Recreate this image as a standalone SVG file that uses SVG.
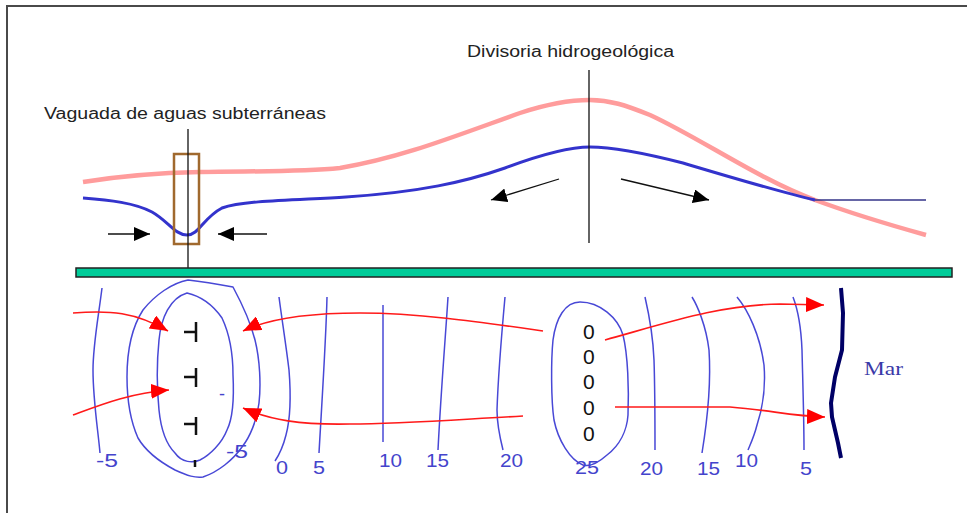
<svg xmlns="http://www.w3.org/2000/svg" width="967" height="513" viewBox="0 0 967 513">
  <style>
    .lbl { font-family: "Liberation Sans", Arial, sans-serif; font-size: 16px; fill: #222; }
    .num { font-family: "Liberation Sans", Arial, sans-serif; font-size: 18px; fill: #4444cc; }
    .well { font-family: "Liberation Sans", Arial, sans-serif; font-size: 21px; fill: #111; }
    .iso { fill: none; stroke: #4848d6; stroke-width: 1.5; stroke-linejoin: round; }
    .flow { fill: none; stroke: #ff1a1a; stroke-width: 1.6; }
    .dir { fill: none; stroke: #111; stroke-width: 1.3; }
    .recharge { stroke: #111; stroke-width: 2.5; fill: none; }
  </style>
  <defs>
    <marker id="headBlack" viewBox="0 0 16 14" refX="16" refY="7" markerWidth="16" markerHeight="14" markerUnits="userSpaceOnUse" orient="auto">
      <path d="M0,0 L16,7 L0,14 Z" fill="#000"/>
    </marker>
    <marker id="headRed" viewBox="0 0 18 15" refX="18" refY="7.5" markerWidth="18" markerHeight="15" markerUnits="userSpaceOnUse" orient="auto">
      <path d="M0,0 L18,7.5 L0,15 Z" fill="#ff0000"/>
    </marker>
  </defs>

  <rect width="967" height="513" fill="#fff"/>
  <!-- page frame -->
  <path d="M7,513 V6 H967" fill="none" stroke="#4a4a4a" stroke-width="2"/>

  <!-- cross-section -->
  <g id="section">
    <path id="ground-surface" d="M83,182 C120,176 150,173 200,172 C260,171 300,172 340,168 C400,158 450,138 520,113 C550,103 570,100 590,100 C610,100 625,105 650,115 C700,138 760,180 815,200 C850,213 890,225 926,235" fill="none" stroke="#ff9c9c" stroke-width="4.5"/>
    <path id="water-table" d="M83,198 C110,200 135,203 152,212 C168,221 175,235 187,235 C199,235 203,218 222,208 C245,200 300,200 346,197 C420,192 465,182 505,168 C545,153 570,147 590,147 C610,147 640,152 683,163 C730,177 780,192 815,200" fill="none" stroke="#3333cc" stroke-width="3"/>
    <line id="sea-level" x1="815" y1="200" x2="926" y2="200" stroke="#333388" stroke-width="1.5"/>
    <rect id="trough-box" x="174" y="154" width="25" height="90" fill="none" stroke="#a0692e" stroke-width="2.5"/>
    <line id="trough-axis" x1="188" y1="129" x2="188" y2="268" stroke="#111" stroke-width="1.3"/>
    <line id="divide-axis" x1="589" y1="70" x2="589" y2="243" stroke="#111" stroke-width="1.3"/>
  </g>

  <g id="section-arrows">
    <line x1="108" y1="234" x2="150" y2="234" class="dir" marker-end="url(#headBlack)"/>
    <line x1="267" y1="234" x2="218" y2="234" class="dir" marker-end="url(#headBlack)"/>
    <line x1="559" y1="179" x2="491" y2="200" class="dir" marker-end="url(#headBlack)"/>
    <line x1="621" y1="179" x2="709" y2="200" class="dir" marker-end="url(#headBlack)"/>
  </g>

  <g id="labels">
    <text class="lbl" x="467" y="57" textLength="207" lengthAdjust="spacingAndGlyphs">Divisoria hidrogeológica</text>
    <text class="lbl" x="44" y="119" textLength="282" lengthAdjust="spacingAndGlyphs">Vaguada de aguas subterráneas</text>
  </g>

  <!-- separator bar -->
  <rect id="bar" x="76" y="268" width="876" height="9" fill="#00cc99" stroke="#222" stroke-width="1.5"/>

  <!-- plan view: piezometric contours -->
  <g id="contours">
    <path class="iso" d="M102,288 C98,320 93,345 93,370 C93,400 98,430 100,453"/>
    <path class="iso" d="M188,280 C205,282 222,285 233,287 C240,300 250,320 255,340 C260,360 261,385 259,403 C257,420 250,437 242,447 C233,460 218,472 203,477 C195,478 188,476 175,470 C160,462 145,450 138,438 C130,420 127,400 127,377 C127,355 130,330 143,310 C155,295 172,283 188,280 Z"/>
    <path class="iso" d="M187,293 C200,296 213,305 222,318 C230,335 233,355 233,375 C234,395 233,418 227,430 C222,443 210,455 200,460 C193,463 182,463 175,453 C167,445 161,430 159,410 C157,390 157,360 159,340 C161,318 170,298 187,293 Z"/>
    <path class="iso" d="M279,297 C282,320 286,345 289,370 C291,395 290,420 286,435 C283,447 279,455 275,461"/>
    <path class="iso" d="M327,297 C326,340 322,400 319,453"/>
    <path class="iso" d="M383,305 L383,442"/>
    <path class="iso" d="M448,297 C446,330 441,390 438,450"/>
    <path class="iso" d="M505,297 C502,330 498,380 497,410 C497,425 500,438 503,450"/>
    <path class="iso" d="M580,302 C600,302 618,318 623,335 C628,355 629,390 628,415 C627,430 620,445 607,455 C598,463 590,467 583,465 C570,460 558,440 554,420 C551,400 551,360 553,340 C556,318 565,302 580,302 Z"/>
    <path class="iso" d="M645,297 C648,310 653,335 654,360 C655,390 655,420 655,450"/>
    <path class="iso" d="M692,297 C697,305 706,325 709,350 C711,380 709,410 702,453"/>
    <path class="iso" d="M737,297 C748,310 760,335 764,365 C766,390 762,410 757,425 C754,437 750,445 748,450"/>
    <path class="iso" d="M793,297 C798,310 801,325 802,350 C803,390 804,420 804,450"/>
  </g>

  <g id="contour-values">
    <text class="num" x="96" y="467" textLength="22" lengthAdjust="spacingAndGlyphs">-5</text>
    <text class="num" x="226" y="458" textLength="22" lengthAdjust="spacingAndGlyphs">-5</text>
    <text class="num" x="276" y="474" textLength="12" lengthAdjust="spacingAndGlyphs">0</text>
    <text class="num" x="313" y="474" textLength="12" lengthAdjust="spacingAndGlyphs">5</text>
    <text class="num" x="379" y="467" textLength="23" lengthAdjust="spacingAndGlyphs">10</text>
    <text class="num" x="426" y="467" textLength="23" lengthAdjust="spacingAndGlyphs">15</text>
    <text class="num" x="500" y="467" textLength="23" lengthAdjust="spacingAndGlyphs">20</text>
    <text class="num" x="575" y="474" textLength="24" lengthAdjust="spacingAndGlyphs">25</text>
    <text class="num" x="640" y="475" textLength="23" lengthAdjust="spacingAndGlyphs">20</text>
    <text class="num" x="697" y="475" textLength="23" lengthAdjust="spacingAndGlyphs">15</text>
    <text class="num" x="735" y="467" textLength="23" lengthAdjust="spacingAndGlyphs">10</text>
    <text class="num" x="800" y="475" textLength="12" lengthAdjust="spacingAndGlyphs">5</text>
    <text class="num" x="219" y="400" font-size="12">-</text>
  </g>

  <!-- recharge marks in the trough -->
  <g id="recharge-marks">
    <path class="recharge" d="M184,332 H196 M196,322 V342"/>
    <path class="recharge" d="M184,377 H196 M196,368 V387"/>
    <path class="recharge" d="M184,424 H196 M196,417 V435"/>
    <path class="recharge" d="M195,460 V467"/>
  </g>

  <!-- pumping wells at the divide -->
  <g id="wells">
    <text class="well" x="583" y="339">0</text>
    <text class="well" x="583" y="364">0</text>
    <text class="well" x="583" y="389">0</text>
    <text class="well" x="583" y="415">0</text>
    <text class="well" x="583" y="441">0</text>
  </g>

  <!-- coastline -->
  <g id="coast">
    <path d="M841,288 L843,313 L842,350 L835,377 L831,403 L832,417 L838,443 L841,458" fill="none" stroke="#000066" stroke-width="4" stroke-linejoin="round"/>
    <text x="864" y="375" font-family="'Liberation Serif', 'Times New Roman', serif" font-size="19" fill="#3a3aa8" textLength="39" lengthAdjust="spacingAndGlyphs">Mar</text>
  </g>

  <!-- groundwater flow lines -->
  <g id="flow-lines">
    <path class="flow" d="M73,313 C110,310 135,312 168,331" marker-end="url(#headRed)"/>
    <path class="flow" d="M73,415 C100,405 130,393 169,390" marker-end="url(#headRed)"/>
    <path class="flow" d="M543,331 C480,322 420,313 360,313 C310,313 270,318 243,331" marker-end="url(#headRed)"/>
    <path class="flow" d="M523,416 C450,420 400,424 350,424 C300,425 270,420 243,408" marker-end="url(#headRed)"/>
    <path class="flow" d="M605,340 C670,322 720,305 780,304 L824,305" marker-end="url(#headRed)"/>
    <path class="flow" d="M615,407 L730,407 C770,410 790,416 825,417" marker-end="url(#headRed)"/>
  </g>
</svg>
